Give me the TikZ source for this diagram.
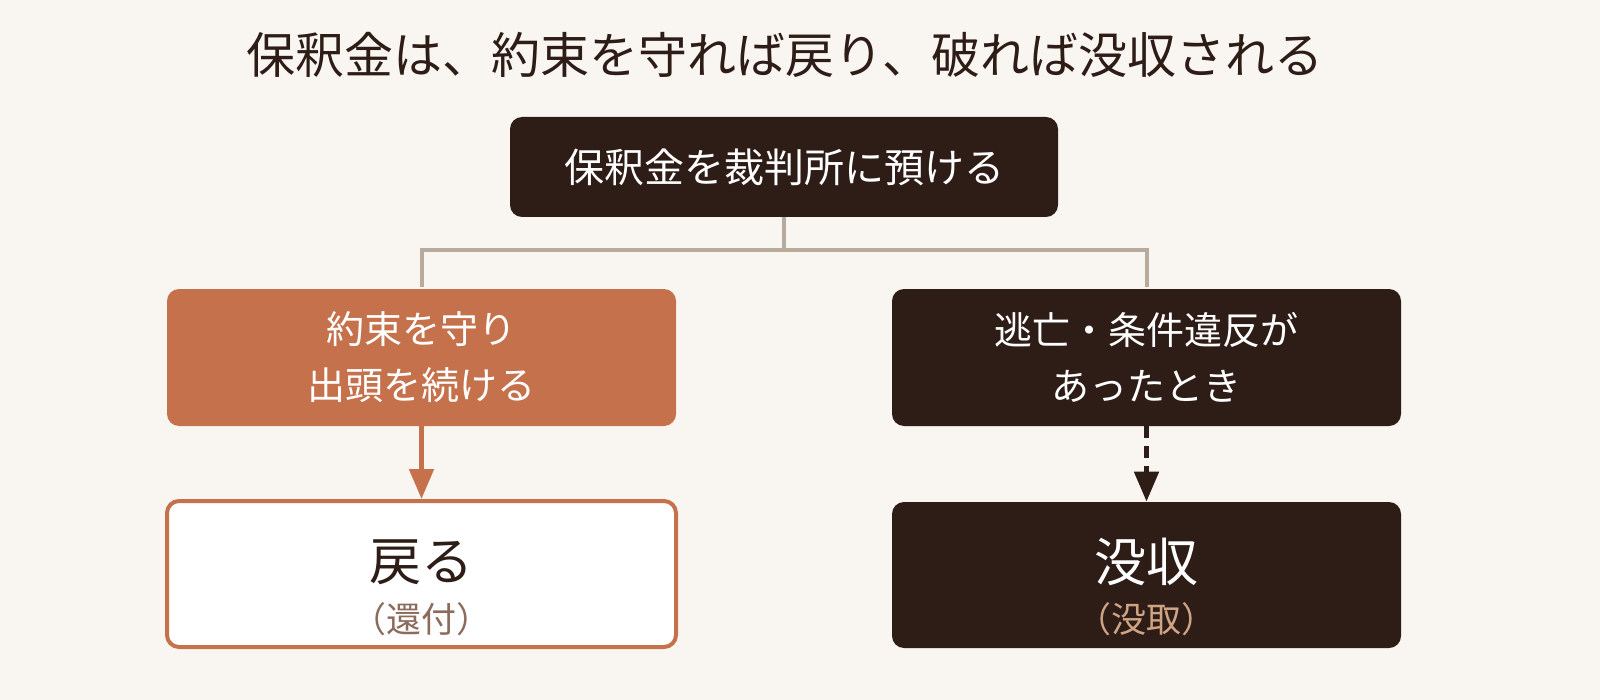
\documentclass[tikz,border=0pt]{standalone}
\usepackage{fontspec}
\setmainfont{Noto Sans CJK JP}
\usetikzlibrary{arrows.meta}
\definecolor{bgc}{HTML}{F9F6F1}
\definecolor{darkc}{HTML}{2E1C16}
\definecolor{orangec}{HTML}{C5714C}
\definecolor{linec}{HTML}{B9AA9E}
\definecolor{subl}{HTML}{8C6B5C}
\definecolor{subr}{HTML}{CFA485}
\tikzset{
  box/.style={rounded corners=6pt, inner sep=0pt, align=center},
  darkbox/.style={box, fill=darkc, text=white},
  orangebox/.style={box, fill=orangec, text=white},
  whitebox/.style={box, fill=white, draw=orangec, line width=2pt, text=darkc},
  conn/.style={draw=linec, line width=2pt},
}
\begin{document}
\begin{tikzpicture}[x=0.5pt,y=-0.5pt]
\fill[bgc] (0,0) rectangle (1600,700);
\useasboundingbox (0,0) rectangle (1600,700);
\node[text=darkc, font=\fontsize{24.5}{28}\selectfont] (title) at (785,55) {保釈金は、約束を守れば戻り、破れば没収される};
\node[darkbox, minimum width=274pt, minimum height=50pt, font=\fontsize{20}{24}\selectfont] (top) at (784,167) {保釈金を裁判所に預ける};
\node[orangebox, minimum width=254.5pt, minimum height=68.5pt, font=\fontsize{19}{28}\selectfont] (left) at (421.5,357.5) {約束を守り\\出頭を続ける};
\node[darkbox, minimum width=254.5pt, minimum height=68.5pt, font=\fontsize{19}{28}\selectfont] (right) at (1146.5,357.5) {逃亡・条件違反が\\あったとき};
\node[whitebox, minimum width=254.5pt, minimum height=73pt] (ret) at (421.5,574) {};
\node[darkbox, minimum width=254.5pt, minimum height=73pt] (conf) at (1146.5,575) {};
\node[text=darkc, font=\fontsize{26}{30}\selectfont] (retmain) at (421.5,562) {戻る};
\node[text=subl, font=\fontsize{17.5}{20}\selectfont] (retsub) at (421.5,619) {（還付）};
\node[text=white, font=\fontsize{26}{30}\selectfont] (confmain) at (1146.5,562) {没収};
\node[text=subr, font=\fontsize{17.5}{20}\selectfont] (confsub) at (1146.5,619) {（没取）};
\coordinate (j) at (784,250);
\draw[conn] (top.south) -- (j);
\draw[conn] (left.north |- 0,287) |- (j) -| (right.north |- 0,287);
\draw[orangec, line width=2.5pt, -{Triangle[width=12pt,length=15pt]}] (left.south) -- (ret.north);
\draw[darkc, line width=2.5pt, dash pattern=on 6pt off 4pt, -{Triangle[width=12pt,length=15pt]}] (right.south) -- (conf.north);
\end{tikzpicture}
\end{document}
